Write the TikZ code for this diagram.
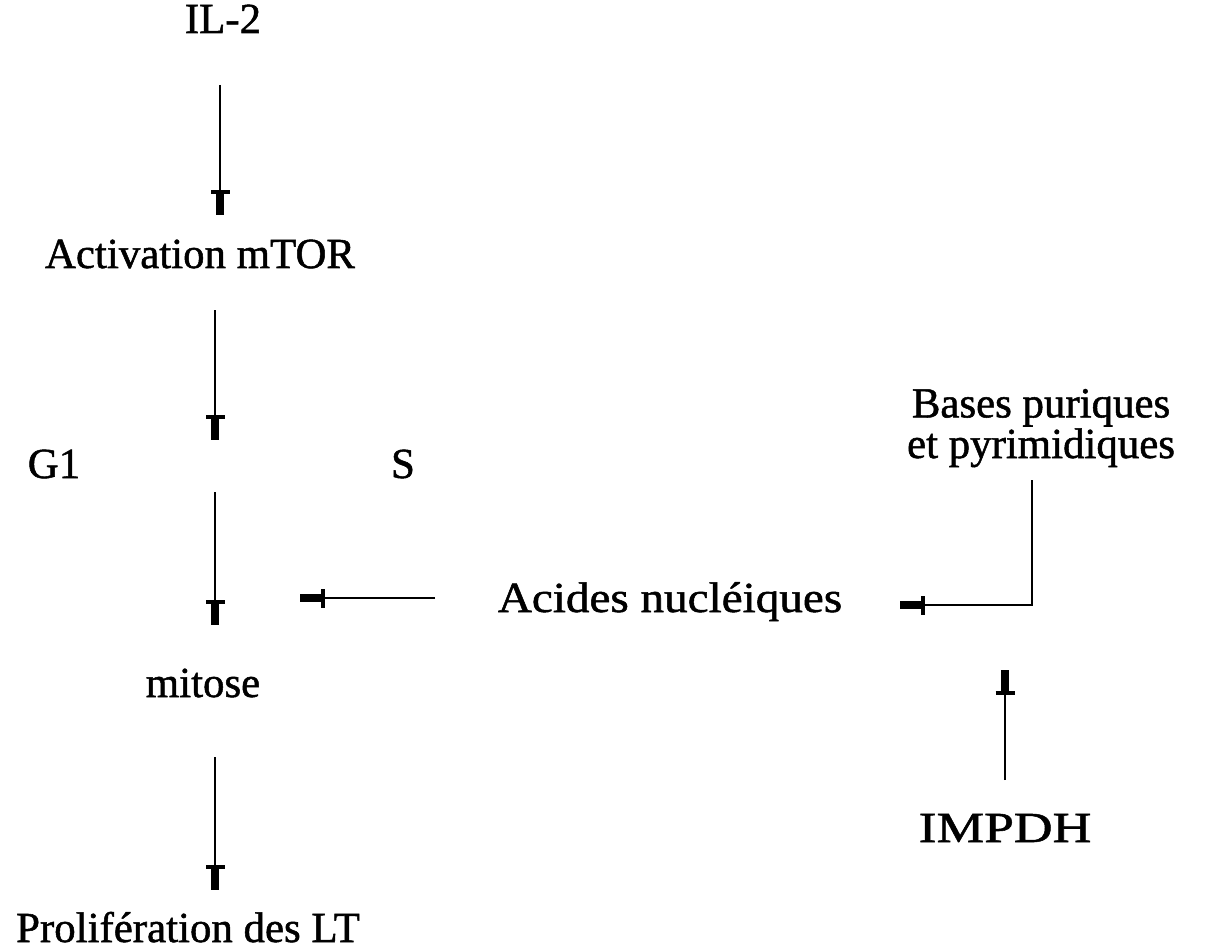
\documentclass[tikz,border=0pt]{standalone}
\usepackage{fontspec}
\setmainfont{Liberation Serif}[RawFeature={embolden=1.2}]
\usetikzlibrary{arrows.meta}
\tikzset{
  lbl/.style={anchor=base, inner sep=0pt, align=center,
    font=\fontsize{24.4}{21.6}\selectfont},
  arr/.style={line width=1.2pt,
    -{Bar[width=0.38cm,line width=2.4pt,sep=0pt]Rectangle[length=0.42cm,width=0.17cm]}}
}
\begin{document}
\begin{tikzpicture}[x=0.02cm, y=-0.02cm]
\useasboundingbox (0,0) rectangle (1212,949);

% pathway labels
\node[lbl] (il2)    at (223,33)  {IL-2};
\node[lbl] (act)    at (200,268) {Activation mTOR};
\node[lbl] (g1)     at (54,478)  {G1};
\node[lbl] (s)      at (403,478) {S};
\node[lbl] (mit)    at (203,697) {mitose};
\node[lbl] (prol)   at (188,942) {Prolifération des LT};
\node[lbl, font=\fontsize{24.4}{21.6}\selectfont\addfontfeature{FakeStretch=1.1}]
  (acides) at (670,612) {Acides nucléiques};
\node[lbl] (bases)  at (1041,458) {Bases puriques\\et pyrimidiques};
\node[lbl, font=\fontsize{24.4}{21.6}\selectfont\addfontfeature{FakeStretch=1.25}]
  (impdh)  at (1005,842) {IMPDH};

% main cascade
\draw[arr] ([shift={(-3,52)}]il2.base) -- ([shift={(20,-53)}]act.base);
\draw[arr] ([shift={(15,42)}]act.base) -- ([shift={(12,-38)}]mit.base |- g1.base);
\draw[arr] ([shift={(12,14)}]mit.base |- g1.base) -- ([shift={(12,-72)}]mit.base);
\draw[arr] ([shift={(12,60)}]mit.base) -- ([shift={(27,-52)}]prol.base);

% nucleic acids feed the S phase
\draw[arr] ([shift={(-235,-14)}]acides.base) -- ([shift={(-103,120)}]s.base);

% bases -> nucleic acids, IMPDH -> bases
\draw[arr] ([shift={(-9,22)}]bases.base) |- ([shift={(230,-7)}]acides.base);
\draw[arr] ([shift={(0,-62)}]impdh.base) -- ([shift={(0,58)}]acides.base -| impdh.base);
\end{tikzpicture}
\end{document}
